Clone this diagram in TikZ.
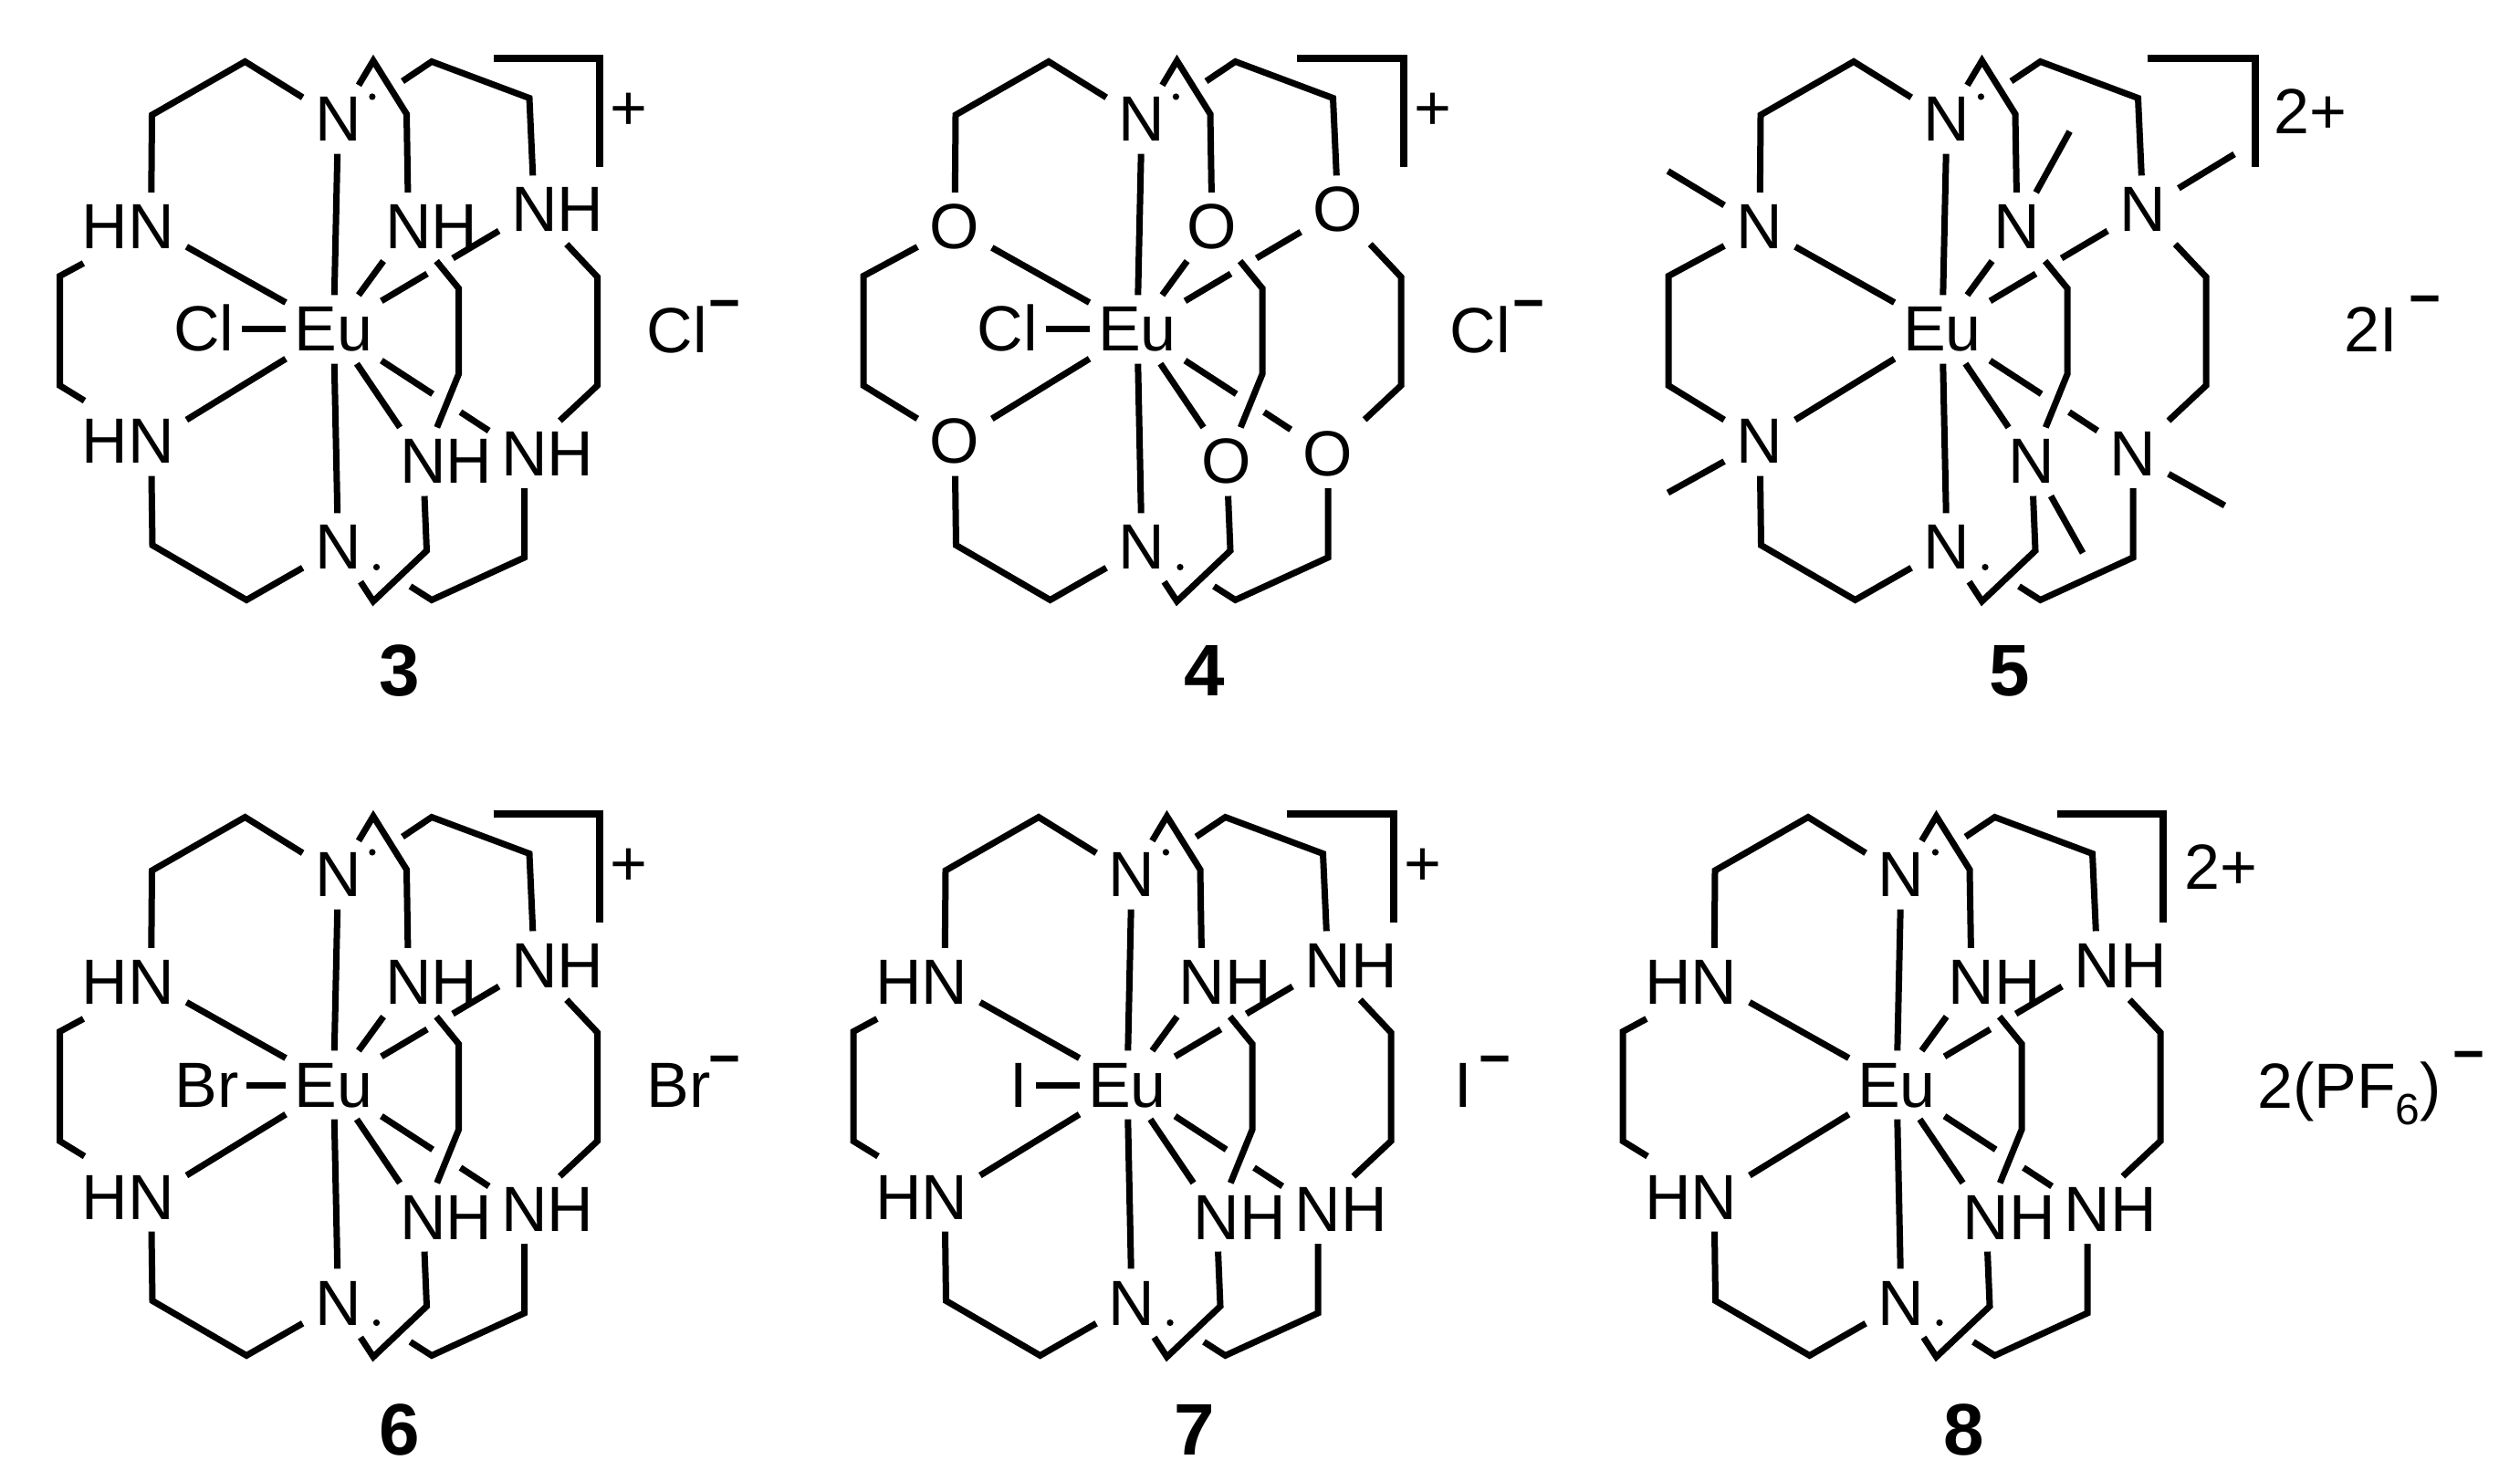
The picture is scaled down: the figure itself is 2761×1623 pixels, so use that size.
\documentclass[tikz,border=0pt]{standalone}
\usepackage{fontspec}
\setmainfont{Liberation Sans}
\tikzset{
	bond/.style={line width=1.75pt,black},
	rim/.style={line width=2pt,black},
	atom/.style={inner sep=3.2pt,text height=12pt,text depth=0pt,font=\fontsize{17.5}{20}\selectfont},
	metal/.style={atom,inner xsep=2.2pt},
	ion/.style={inner sep=0pt,font=\fontsize{17.5}{20}\selectfont},
	bar/.style={inner sep=0pt,font=\fontsize{15}{18}\selectfont\bfseries},
	tag/.style={inner sep=0pt,font=\fontsize{20}{24}\selectfont\bfseries},
	spot/.style={circle,fill=black,inner sep=0pt,minimum size=1.8pt}
}
% #1 name, #2 donor on the left, #3 donor on the right, #4 gap for the H
\newcommand{\cage}[4]{
	\node[metal] (#1-eu) at (0,0) {Eu};
	\node[atom] (#1-top) at (5,-230) {N};
	\node[atom] (#1-bot) at (5,239) {N};
	\node[atom] (#1-tl) at (-200,-112.5) {#2};
	\node[atom] (#1-bl) at (-200,123) {#2};
	\node[atom] (#1-fu) at (82,-112.5) {#3};
	\node[atom] (#1-fl) at (98,145) {#3};
	\node[atom] (#1-ru) at (220,-131) {#3};
	\node[atom] (#1-rl) at (209,136.5) {#3};
	\node[spot] (#1-s1) at (42.4,-255) {};
	\node[spot] (#1-s2) at (47,260.5) {};
	\coordinate (#1-a) at (-97,-293.5);
	\coordinate (#1-b) at (-199,-235);
	\coordinate (#1-c) at (-300,-58.5);
	\coordinate (#1-d) at (-300,61.5);
	\coordinate (#1-e) at (-198.5,236.5);
	\coordinate (#1-f) at (-95.4,296.5);
	\coordinate (#1-g) at (43.5,-294.5);
	\coordinate (#1-h) at (80,-236);
	\coordinate (#1-i) at (75.5,-272);
	\coordinate (#1-j) at (107.5,-293.5);
	\coordinate (#1-k) at (214.5,-253.5);
	\coordinate (#1-l) at (289,-57.5);
	\coordinate (#1-m) at (289,61.5);
	\coordinate (#1-n) at (209,250);
	\coordinate (#1-o) at (107.5,296.5);
	\coordinate (#1-p) at (84,281.5);
	\coordinate (#1-q) at (43.5,298);
	\coordinate (#1-r) at (102,242.5);
	\coordinate (#1-v) at (137,-45);
	\coordinate (#1-w) at (137,49);
	\coordinate (#1-x1) at (102.5,-61);
	\coordinate (#1-x2) at (130.6,-78);
	\coordinate (#1-y1) at (108.6,70.8);
	\coordinate (#1-y2) at (139,90.6);
	\draw[bond] (#1-tl) -- (#1-b) -- (#1-a) -- (#1-top);
	\draw[bond,shorten <=#4,shorten >=#4] (#1-tl) -- (#1-c) -- (#1-d) -- (#1-bl);
	\draw[bond] (#1-bl) -- (#1-e) -- (#1-f) -- (#1-bot);
	\draw[bond] (#1-top) -- (#1-g) -- (#1-h) -- (#1-fu);
	\draw[bond] (#1-i) -- (#1-j) -- (#1-k) -- (#1-ru);
	\draw[bond] (#1-ru) -- (#1-l) -- (#1-m) -- (#1-rl);
	\draw[bond] (#1-rl) -- (#1-n) -- (#1-o) -- (#1-p);
	\draw[bond] (#1-bot) -- (#1-q) -- (#1-r) -- (#1-fl);
	\draw[bond] (#1-fu) -- (#1-v) -- (#1-w) -- (#1-fl);
	\path[bond]
	(#1-eu) edge (#1-top)
	(#1-eu) edge (#1-bot)
	(#1-eu) edge (#1-tl)
	(#1-eu) edge (#1-bl)
	(#1-eu) edge (#1-fu)
	(#1-eu) edge (#1-fl)
	(#1-eu) edge (#1-x1)
	(#1-x2) edge (#1-ru)
	(#1-eu) edge (#1-y1)
	(#1-y2) edge (#1-rl);
}
% #1 name, #2 halogen, #3 its x
\newcommand{\halide}[3]{
	\node[atom,inner xsep=2pt] (#1-hal) at (#3,0) {#2};
	\draw[bond] (#1-hal) -- (#1-eu);
}
% #1 left end of the bracket, #2 its corner
\newcommand{\rim}[2]{
	\draw[rim] (#1,-297) -- (#2,-297) -- (#2,-178);
}
\begin{document}
\begin{tikzpicture}[x=0.25pt,y=-0.25pt]
	\useasboundingbox (0,0) rectangle (2761,1623);

	\begin{scope}[shift={(365.5,361)}]
		\cage{m3}{\llap{H}N}{N\rlap{H}}{10pt}
		\halide{m3}{Cl}{-142}
		\rim{175}{291.6}
		\node[ion] (m3-plus) at (323.6,-239) {+};
		\node[ion] (m3-anion) at (376,0) {Cl};
		\node[bar] (m3-minus) at (429,-20) {−};
		\node[tag] (m3-tag) at (72.7,374) {3};
	\end{scope}

	\begin{scope}[shift={(1246,361)}]
		\cage{m4}{O}{O}{0pt}
		\halide{m4}{Cl}{-142}
		\rim{175}{291.6}
		\node[ion] (m4-plus) at (323.6,-239) {+};
		\node[ion] (m4-anion) at (376,0) {Cl};
		\node[bar] (m4-minus) at (429,-20) {−};
		\node[tag] (m4-tag) at (74,374) {4};
	\end{scope}

	\begin{scope}[shift={(2128,361)}]
		\cage{m5}{N}{N}{0pt}
		\coordinate (m5-me1) at (-300.6,-173.5);
		\coordinate (m5-me2) at (-300.6,179);
		\coordinate (m5-me3) at (139.6,-217);
		\coordinate (m5-me4) at (320,-192);
		\coordinate (m5-me5) at (309.4,193);
		\coordinate (m5-me6) at (154,245);
		\path[bond]
		(m5-tl) edge (m5-me1)
		(m5-bl) edge (m5-me2)
		(m5-fu) edge (m5-me3)
		(m5-ru) edge (m5-me4)
		(m5-rl) edge (m5-me5)
		(m5-fl) edge (m5-me6);
		\rim{224.5}{343}
		\node[ion] (m5-plus) at (403.6,-238.5) {2+};
		\node[ion] (m5-anion) at (470,0) {2I};
		\node[bar] (m5-minus) at (529,-25) {−};
		\node[tag] (m5-tag) at (73.6,374) {5};
	\end{scope}

	\begin{scope}[shift={(365.5,1189)}]
		\cage{m6}{\llap{H}N}{N\rlap{H}}{10pt}
		\halide{m6}{Br}{-139}
		\rim{175}{291.6}
		\node[ion] (m6-plus) at (323.6,-239) {+};
		\node[ion] (m6-anion) at (378,0) {Br};
		\node[bar] (m6-minus) at (429,-20) {−};
		\node[tag] (m6-tag) at (72.7,378) {6};
	\end{scope}

	\begin{scope}[shift={(1235,1189)}]
		\cage{m7}{\llap{H}N}{N\rlap{H}}{10pt}
		\halide{m7}{I}{-118.5}
		\rim{175}{291.6}
		\node[ion] (m7-plus) at (323.6,-239) {+};
		\node[ion] (m7-anion) at (368,0) {I};
		\node[bar] (m7-minus) at (403,-20) {−};
		\node[tag] (m7-tag) at (74,378) {7};
	\end{scope}

	\begin{scope}[shift={(2078,1189)}]
		\cage{m8}{\llap{H}N}{N\rlap{H}}{10pt}
		\rim{175.5}{292}
		\node[ion] (m8-plus) at (355,-239) {2+};
		\node[ion] (m8-anion) at (496,9) {2(PF\raisebox{-4.5pt}{\fontsize{12}{14}\selectfont 6})};
		\node[bar] (m8-minus) at (627,-25) {−};
		\node[tag] (m8-tag) at (74,378) {8};
	\end{scope}
\end{tikzpicture}
\end{document}
